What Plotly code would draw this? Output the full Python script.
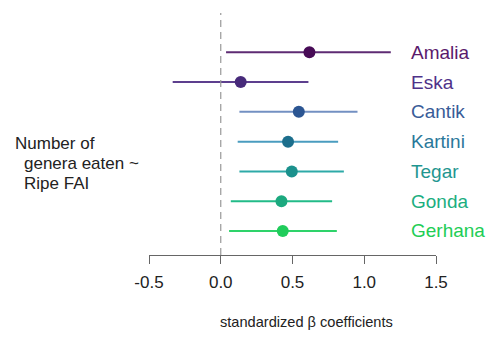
import plotly.graph_objects as go

# Data
names = ["Amalia", "Eska", "Cantik", "Kartini", "Tegar", "Gonda", "Gerhana"]
estimate = [0.618, 0.139, 0.544, 0.469, 0.495, 0.423, 0.432]
lower = [0.037, -0.335, 0.130, 0.118, 0.130, 0.070, 0.058]
upper = [1.185, 0.611, 0.953, 0.818, 0.858, 0.776, 0.809]
rows = [7, 6, 5, 4, 3, 2, 1]
tick_vals = [-0.5, 0.0, 0.5, 1.0, 1.5]
tick_text = ["-0.5", "0.0", "0.5", "1.0", "1.5"]

point_colors = ["#470b56", "#472a7a", "#2b5592", "#1c6e8c", "#1b918d", "#1ca97f", "#20cc5b"]
line_colors = ["#5e2b73", "#5d3f8e", "#7390c2", "#4a9cbf", "#2eaaa8", "#22bb88", "#2ed36a"]
text_colors = ["#5a1a6c", "#4f3289", "#395c98", "#2a789a", "#1f9690", "#1bae80", "#22cd55"]

fig = go.Figure()

for i, name in enumerate(names):
    fig.add_trace(go.Scatter(
        x=[lower[i], upper[i]], y=[rows[i], rows[i]], mode="lines",
        line=dict(color=line_colors[i], width=2), showlegend=False, hoverinfo="skip"))
    fig.add_trace(go.Scatter(
        x=[estimate[i]], y=[rows[i]], mode="markers",
        marker=dict(color=point_colors[i], size=12, line=dict(width=0)),
        showlegend=False, name=name))
    fig.add_annotation(
        x=0.905, xref="paper", y=rows[i], yref="y", text=name,
        showarrow=False, xanchor="left", yanchor="middle",
        font=dict(family="Liberation Sans, Arial", size=19, color=text_colors[i]))

# dashed zero line
fig.add_shape(type="line", x0=0, x1=0, xref="x", y0=0, y1=0.988, yref="paper",
              line=dict(color="#999999", width=1.2, dash="7px,5px"))

# left label
left_lines = [("Number of", -0.474, 0.457), ("genera eaten ~", -0.443, 0.375), ("Ripe FAI", -0.443, 0.293)]
for txt, xx, yy in left_lines:
    fig.add_annotation(x=xx, xref="paper", y=yy, yref="paper", text=txt,
                       showarrow=False, xanchor="left", yanchor="middle",
                       font=dict(family="Liberation Sans, Arial", size=17, color="#222222"))

# x axis title
fig.add_annotation(x=0.549, xref="paper", y=-0.2735, yref="paper",
                   text="standardized β coefficients", showarrow=False,
                   xanchor="center", yanchor="middle",
                   font=dict(family="Liberation Sans, Arial", size=14.6, color="#222222"))

fig.update_layout(
    width=489, height=338,
    margin=dict(l=149, r=53, t=10, b=83),
    plot_bgcolor="white", paper_bgcolor="white",
    font=dict(family="Liberation Sans, Arial", color="#222222"),
    xaxis=dict(range=[-0.5, 1.5], tickvals=tick_vals, ticktext=tick_text,
               showline=True, linecolor="#666666", linewidth=1,
               ticks="outside", ticklen=8, tickcolor="#666666", tickwidth=1,
               ticklabelstandoff=4,
               showgrid=False, zeroline=False,
               tickfont=dict(size=17, color="#222222")),
    yaxis=dict(range=[0.194, 8.42], visible=False),
)

fig.write_html("out.html", config={"displayModeBar": False},
               post_script="document.body.style.margin='0px';")
